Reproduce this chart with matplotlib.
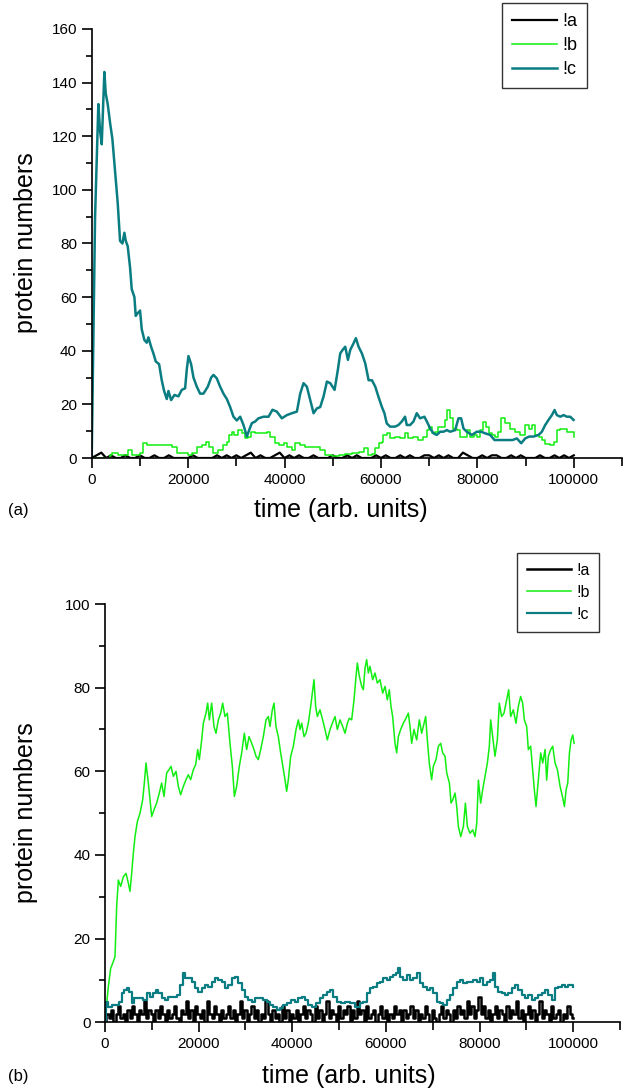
import numpy as np
import matplotlib
matplotlib.use("Agg")
import matplotlib.pyplot as plt
from matplotlib.ticker import MultipleLocator

plt.rcParams['font.family'] = ['Liberation Sans', 'DejaVu Sans']

BLACK = '#000000'
GREEN = '#11ee11'
TEAL = '#0a7d82'

# ---- panel (a) ----
a_c_t = [0, 350, 700, 1380, 1730, 2080, 2350, 2630, 2910, 3320, 3810, 4290, 4840, 5400,
         5880, 6370, 6780, 7060, 7470, 7960, 8300, 8860, 9130, 9550, 10030, 10380, 10930,
         11420, 11760, 12320, 12800, 13290, 13980, 14530, 15020, 15570, 15920, 16470, 17160,
         17990, 18680, 19380, 19720, 20070, 20620, 21110, 21800, 22490, 23180, 24080, 24780,
         25260, 25950, 26640, 27330, 28030, 28720, 29410, 30100, 30800, 31490, 32180, 32660,
         33220, 33900, 34600, 35640, 36680, 37500, 38400, 39440, 40480, 41520, 42560, 43250,
         43940, 44630, 45330, 46020, 46710, 47400, 48100, 48790, 49480, 50380, 51070, 51550,
         52040, 52590, 53150, 53630, 54320, 54800, 55360, 56050, 56740, 57440, 58130, 58820,
         59470, 60160, 60720, 61200, 61900, 62930, 63620, 64320, 65000, 65350, 66050, 66740,
         67430, 68120, 69020, 69710, 70200, 70890, 71580, 72270, 72970, 73660, 74350, 75390,
         76080, 76630, 77120, 77810, 78850, 79890, 80790, 81620, 82660, 83550, 84380, 85420,
         86460, 87290, 88190, 89090, 89920, 90750, 91650, 92690, 93380, 94070, 94760, 95460,
         96010, 96490, 97190, 97880, 98570, 99260, 99950]
a_c_v = [0, 45, 90, 132, 122, 117, 130, 144, 136, 132, 125, 119, 107, 95,
         81, 80, 84, 81, 79, 71, 63, 60, 53, 54, 55, 48, 44,
         43, 45, 41.5, 39, 36, 35, 29, 25, 22, 25, 21.6, 23.5,
         23, 25.4, 26, 33, 38, 35, 30, 26.6, 24, 24, 26.6, 30,
         31, 29.7, 26.6, 24, 22, 19, 15.4, 14, 15.4, 12.3, 8, 10.4,
         13, 13.6, 14.8, 15.4, 15.4, 18, 17.3, 14.8, 16, 16.7, 17.3, 24,
         27.9, 26.6, 21.6, 16.7, 18.5, 19, 23, 28.5, 27.9, 25.4, 33, 39,
         40.3, 41.5, 36.6, 40.3, 42.8, 44.7, 41.5, 39, 35.3, 29, 29, 26.6,
         22.9, 19.2, 16.7, 12.9, 11.7, 11.7, 12.3, 13.6, 15.4, 12.3, 12.3, 13.6,
         16.7, 14.8, 15.4, 12.9, 11, 9.2, 8.6, 9.8, 9.8, 10.4, 9.8, 10.4,
         14.8, 14.8, 11, 9.8, 8.6, 9.8, 9.8, 9.2, 8.6, 6.7, 6.7, 6.7,
         6.7, 6.7, 7.3, 5.5, 7.3, 8, 8, 8.6, 9.8, 12.3, 14.2, 16,
         17.9, 16, 15.4, 16, 15.4, 15.4, 14.2]

a_b_t = [0, 2770, 3800, 4150, 5540, 6920, 7610, 8300, 9000, 10030, 10730, 11420, 12460,
         15920, 16750, 17650, 19380, 20070, 20760, 21800, 22840, 23670, 24360, 25260, 26300,
         27330, 28030, 28510, 29060, 29610, 30300, 31140, 31830, 32520, 33080, 33910, 34950,
         36330, 37020, 38060, 38750, 39790, 40480, 41520, 42210, 43250, 44290, 45670, 46710,
         47400, 48440, 49820, 51210, 52590, 53970, 55360, 56400, 57300, 58130, 58820, 59510,
         60200, 60510, 61200, 61900, 62930, 63970, 65000, 65700, 66740, 67780, 68820, 69510,
         70000, 70540, 71240, 71930, 72620, 73310, 73800, 74350, 75040, 75730, 76420, 77120,
         77810, 78500, 79200, 79890, 80580, 81270, 81750, 82310, 83000, 83690, 84380, 84940,
         85770, 86800, 87840, 88880, 89780, 90610, 91300, 92000, 92690, 93380, 94070, 95110,
         95800, 96490, 97190, 97880, 98570, 99260, 99950]
a_b_v = [0, 0, 1, 2, 1, 1, 3, 1, 1, 2, 5.5, 5, 5,
         5, 4, 2, 2, 1, 2, 4, 5, 6, 4, 2, 3,
         5, 6, 8.6, 9.8, 8.6, 10.4, 9.2, 7.3, 8, 9.8, 9.2, 9.2,
         9.8, 8, 5.5, 4.8, 5.5, 4.2, 3, 5.5, 4.8, 4, 4.2, 4,
         3, 1, 0.7, 1, 1.4, 1.7, 2.4, 3.6, 1, 1.4, 3.6, 5.5,
         6.1, 8.6, 9.2, 7.3, 8, 7.3, 9.2, 7.3, 8, 6.7, 8, 10.4,
         11.7, 9.2, 9.8, 11.7, 11.7, 14.2, 17.9, 14.8, 11, 10.4, 8, 8,
         10.4, 8, 8.6, 8, 10.4, 13.6, 11.7, 9.2, 8.6, 8, 9.8, 14.8,
         12.9, 11, 9.8, 8.6, 12.3, 11, 12.3, 8.6, 8, 6.7, 5.2, 4.9,
         6.1, 10.4, 11, 11, 9.8, 9.8, 8]

a_a_v = [0, 1, 2, 0, 1, 0, 0, 1, 0, 0, 1, 0, 0, 1, 0, 0, 1, 0, 0, 0,
         0, 1, 0, 0, 0, 0, 1, 0, 1, 0, 1, 0, 1, 2, 0, 1, 0, 0, 1, 2,
         0, 1, 0, 1, 0, 0, 1, 0, 0, 0, 1, 0, 0, 1, 0, 1, 0, 0, 0, 1,
         0, 1, 0, 0, 1, 0, 1, 0, 0, 1, 1, 0, 1, 0, 1, 0, 0, 2, 1, 0,
         0, 1, 0, 1, 1, 0, 0, 1, 0, 1, 0, 0, 0, 1, 0, 0, 1, 0, 1, 0, 1]

# ---- panel (b) ----
b_b_t = [0, 360, 710, 1210, 1640, 2140, 2490, 2850, 3350, 3920, 4490, 4980, 5340, 5700,
         6050, 6410, 6910, 7480, 8050, 8400, 8760, 9260, 9610, 9970, 10470, 11030, 11600,
         12100, 12600, 13170, 13670, 14100, 14600, 15170, 15660, 16160, 16730, 17300, 17800,
         18300, 18870, 19370, 19790, 20150, 20650, 21000, 21570, 21930, 22290, 22780, 23280,
         23710, 24210, 24710, 25130, 25630, 26130, 26700, 27200, 27630, 28120, 28690, 29190,
         29760, 30260, 30760, 31330, 31830, 32250, 32750, 33250, 33820, 34390, 34890, 35240,
         35740, 36100, 36520, 37020, 37520, 38090, 38450, 38800, 39160, 39660, 40230, 40800,
         41300, 41650, 42010, 42510, 42930, 43430, 43930, 44360, 44640, 45000, 45350, 45920,
         46490, 46990, 47490, 48060, 48560, 49130, 49630, 50200, 50770, 51270, 51770, 52190,
         52690, 53190, 53620, 53900, 54330, 54830, 55180, 55540, 55890, 56250, 56600, 57170,
         57670, 58170, 58740, 59310, 59810, 60300, 60730, 61090, 61440, 61940, 62300, 62660,
         63150, 63720, 64290, 64790, 65150, 65500, 66000, 66570, 67140, 67640, 68140, 68490,
         68850, 69280, 69770, 70130, 70700, 71200, 71700, 72130, 72630, 72990, 73560, 73910,
         74270, 74770, 75120, 75480, 75980, 76550, 76980, 77400, 77970, 78540, 79040, 79400,
         79750, 80240, 80670, 81170, 81670, 82090, 82380, 82800, 83300, 83800, 84220, 84720,
         85220, 85790, 86220, 86640, 87210, 87780, 88280, 88780, 89210, 89570, 90070, 90420,
         90920, 91350, 91700, 92060, 92560, 93060, 93490, 93990, 94340, 94700, 95200, 95630,
         96130, 96630, 97200, 97700, 98130, 98490, 98840, 99200, 99550, 99910, 100190]
b_b_v = [0, 4.5, 8.5, 12.9, 14.1, 15.7, 27.7, 34, 32.5, 34.8, 35.6, 33.3, 31.3, 35.6,
         40.4, 44.4, 48, 50, 53.2, 57.2, 62, 57.2, 53.2, 49.2, 50.8, 52.4, 54.8,
         57.2, 54, 59.6, 60.4, 61.2, 58.8, 60, 56.4, 54.4, 56.4, 58, 59.2,
         58, 60.4, 61.6, 65.2, 62.8, 67.5, 71.5, 73.9, 76.3, 72.3, 76.3, 70.7,
         69.1, 72.3, 73.9, 76.3, 73.1, 73.9, 66.7, 61.2, 54, 56.4, 61.2, 64.4,
         69.1, 65.2, 68.3, 66.7, 65.2, 63.6, 62.8, 65.2, 68.3, 72.3, 73.1, 70.7,
         74.7, 76.3, 70.7, 68.3, 64.4, 60.4, 58, 55.2, 58, 63.6, 66, 70,
         72.3, 70, 71.5, 68.3, 69.1, 71.5, 75.5, 79.5, 81.9, 75.5, 73.1, 74.7,
         72.3, 70, 67.5, 70, 71.5, 73.1, 70, 72.3, 70.7, 69.1, 71.5, 72.7,
         72.3, 77.1, 82.7, 85.9, 82.7, 80.3, 79.5, 84.7, 86.7, 83.5, 85.1, 81.9,
         83.5, 81.1, 81.9, 78.7, 80.3, 77.1, 79.5, 75.5, 73.1, 66.7, 64.4, 68.3,
         70, 71.5, 72.7, 73.9, 70.7, 66.7, 70, 67.5, 72.3, 69.1, 71.5, 73.1,
         67.5, 61.8, 58, 61.2, 62.8, 66, 66.7, 64.4, 63.6, 59.6, 57.2, 52.4,
         53.2, 54.8, 51.6, 46.8, 44.4, 46.8, 52.4, 46.8, 45.2, 46, 44.4, 47.6,
         57.9, 52.4, 55.6, 58.8, 62, 66, 72.3, 68.3, 63.6, 67.5, 76.3, 73.1,
         73.9, 77.1, 79.5, 73.1, 74.7, 71.5, 75.5, 77.9, 76.3, 72.3, 70.7, 65.2,
         66, 60.4, 55.6, 51.6, 57.9, 64.4, 62, 65.2, 57.9, 63.6, 65.2, 66,
         62, 60.4, 56.4, 54, 51.6, 55.6, 57.2, 64.4, 67.5, 68.7, 66.7]

b_c_t = [0, 210, 710, 1420, 2490, 3060, 3560, 4060, 4630, 5200, 5700, 6190, 6620, 7480,
         8190, 8900, 9610, 10320, 10890, 11390, 12100, 12820, 13530, 14240, 15310, 16020,
         16590, 17090, 17800, 18510, 19220, 19940, 20650, 21360, 22070, 22780, 23500, 24210,
         24920, 25630, 26340, 27060, 27770, 28480, 29190, 29900, 30620, 31330, 32040, 32750,
         33820, 34530, 35240, 35960, 36670, 37380, 38090, 38950, 39660, 40580, 41300, 42010,
         42720, 43430, 44150, 45070, 45920, 46630, 47350, 48060, 48770, 49480, 50340, 51270,
         52330, 53400, 54470, 55180, 55890, 56600, 57320, 58030, 58740, 59450, 60160, 60870,
         61580, 62150, 62510, 63010, 63720, 64430, 65150, 65860, 66570, 67280, 67990, 68710,
         69420, 70130, 70840, 71560, 72270, 72980, 73690, 74410, 75120, 75830, 76540, 77260,
         77970, 78680, 79390, 80100, 80810, 81520, 82240, 82800, 83300, 84010, 84720, 85440,
         86150, 86860, 87570, 88280, 88990, 89710, 90420, 91130, 91840, 92560, 93270, 93980,
         94700, 95410, 96120, 96830, 97540, 98260, 98970, 100040]
b_c_v = [0, 4.9, 3.7, 4.1, 4.1, 4.9, 6.9, 7.7, 8.1, 7.3, 4.5, 5.7, 5.7, 5.7,
         5.3, 6.9, 6.1, 6.9, 7.7, 6.9, 5.7, 5.3, 6.1, 6.1, 6.5, 8.9,
         11.7, 10.5, 10.5, 9.7, 8.1, 7.3, 8.1, 8.9, 8.5, 9.7, 10.5, 10.1,
         9.7, 8.1, 8.9, 10.5, 10.9, 9.3, 7.7, 6.1, 5.3, 4.9, 5.7, 5.7,
         5.3, 4.9, 4.1, 3.7, 2.9, 3.3, 4.1, 4.5, 5.3, 4.9, 5.7, 6.1,
         5.3, 4.1, 3.7, 4.5, 5.7, 6.5, 7.3, 7.7, 6.1, 4.9, 4.5, 4.9,
         4.5, 3.7, 4.5, 4.9, 6.9, 8.1, 8.5, 9.3, 9.7, 10.5, 10.1, 10.9,
         11.3, 11.7, 12.9, 10.9, 10.1, 11.3, 10.1, 10.5, 11.7, 9.3, 8.5, 7.7,
         8.1, 6.9, 4.9, 4.5, 4.1, 5.3, 6.5, 8.1, 9.7, 10.1, 9.3, 9.7,
         9.7, 10.1, 9.7, 10.5, 8.9, 9.7, 10.1, 11.7, 8.5, 7.3, 6.9, 6.5,
         6.9, 8.1, 8.9, 7.7, 6.5, 5.7, 6.5, 5.3, 5.7, 6.5, 6.9, 7.7,
         6.5, 5.3, 8.1, 8.5, 8.9, 8.5, 8.9, 8.5]

b_a_v = [0, 2, 1, 3, 0, 2, 4, 1, 2, 0, 3, 1, 4, 2, 0, 3, 2, 5, 1, 3, 2,
         0, 3, 1, 4, 2, 0, 3, 1, 2, 4, 1, 0, 3, 2, 5, 1, 3, 0, 4, 2,
         1, 3, 0, 5, 2, 1, 4, 2, 0, 3, 1, 2, 4, 1, 3, 0, 2, 5, 1, 3,
         0, 2, 4, 1, 3, 0, 2, 1, 5, 2, 0, 3, 1, 2, 0, 4, 1, 3, 0, 2,
         1, 3, 0, 2, 4, 1, 3, 2, 0, 4, 1, 3, 0, 2, 5, 1, 3, 2, 0, 4,
         1, 3, 2, 4, 0, 3, 1, 5, 2, 3, 0, 4, 1, 2, 3, 0, 2, 4, 1, 3,
         0, 2, 1, 4, 2, 3, 0, 3, 1, 2, 4, 1, 3, 0, 2, 1, 4, 2, 0, 3,
         1, 0, 2, 4, 1, 3, 2, 0, 3, 1, 4, 2, 3, 1, 5, 2, 4, 1, 3, 6,
         2, 4, 1, 3, 0, 2, 4, 1, 3, 2, 0, 4, 1, 3, 2, 5, 1, 3, 0, 2,
         4, 1, 3, 0, 2, 5, 1, 3, 2, 0, 4, 1, 2, 3, 0, 2, 1, 4, 2, 1]

labels = ['!a', '!b', '!c']

W, H = 635, 1091
fig = plt.figure(figsize=(W / 100, H / 100), dpi=100)


def style_axis(ax, ymax, ymajor):
    for s in ['top', 'right']:
        ax.spines[s].set_visible(False)
    for s in ['left', 'bottom']:
        ax.spines[s].set_linewidth(1.2)
    ax.set_xlim(0, 110000)
    ax.set_ylim(0, ymax)
    ax.xaxis.set_major_locator(MultipleLocator(20000))
    ax.xaxis.set_minor_locator(MultipleLocator(10000))
    ax.yaxis.set_major_locator(MultipleLocator(ymajor))
    ax.yaxis.set_minor_locator(MultipleLocator(ymajor / 2))
    ax.tick_params(which='major', direction='out', length=7, width=1.2, labelsize=11)
    ax.tick_params(which='minor', direction='out', length=4, width=1.2)
    ax.tick_params(axis='x', which='minor', length=6)


# panel (a)
ax1 = fig.add_axes([91.7 / W, 1 - 458 / H, (622 - 91.7) / W, (458 - 29) / H])
t_a = np.linspace(0, 100000, len(a_a_v))
ax1.plot(t_a, a_a_v, color=BLACK, lw=1.6, label=labels[0])
ax1.plot(a_b_t, a_b_v, color=GREEN, lw=1.1, drawstyle='steps-post', label=labels[1])
ax1.plot(a_c_t, a_c_v, color=TEAL, lw=1.8, label=labels[2])
style_axis(ax1, 160, 20)
ax1.set_ylabel('protein numbers', fontsize=18)
ax1.yaxis.set_label_coords(26 / W, 1 - 243 / H, transform=fig.transFigure)
ax1.set_xlabel('time (arb. units)', fontsize=18)
ax1.xaxis.set_label_coords(341 / W, 1 - 510 / H, transform=fig.transFigure)
ax1.xaxis.label.set_va('center')
ax1.yaxis.label.set_va('center')
leg1 = ax1.legend(loc='upper left', bbox_to_anchor=(502 / W, 1 - 3 / H),
                  bbox_transform=fig.transFigure, borderaxespad=0, frameon=True,
                  fancybox=False, edgecolor='black', fontsize=13, handlelength=2.5,
                  handletextpad=0.3, labelspacing=0.4, borderpad=0.55)
leg1.get_frame().set_linewidth(1.0)
fig.text(18 / W, 1 - 510 / H, '(a)', fontsize=12, ha='center', va='center')

# panel (b)
ax2 = fig.add_axes([105 / W, 1 - 1022.3 / H, (620 - 105) / W, (1022.3 - 604) / H])
t_b = np.linspace(0, 100000, len(b_a_v))
ax2.plot(t_b, b_a_v, color=BLACK, lw=1.8, drawstyle='steps-mid', label=labels[0])
ax2.plot(b_b_t, b_b_v, color=GREEN, lw=1.1, label=labels[1])
ax2.plot(b_c_t, b_c_v, color=TEAL, lw=1.6, drawstyle='steps-post', label=labels[2])
style_axis(ax2, 100, 20)
ax2.set_ylabel('protein numbers', fontsize=18)
ax2.yaxis.set_label_coords(26 / W, 1 - 813 / H, transform=fig.transFigure)
ax2.set_xlabel('time (arb. units)', fontsize=18)
ax2.xaxis.set_label_coords(349 / W, 1 - 1076 / H, transform=fig.transFigure)
ax2.xaxis.label.set_va('center')
ax2.yaxis.label.set_va('center')
leg2 = ax2.legend(loc='upper left', bbox_to_anchor=(517 / W, 1 - 553 / H),
                  bbox_transform=fig.transFigure, borderaxespad=0, frameon=True,
                  fancybox=False, edgecolor='black', fontsize=11.5, handlelength=2.8,
                  handletextpad=0.3, labelspacing=0.45, borderpad=0.6)
leg2.get_frame().set_linewidth(1.0)
fig.text(18 / W, 1 - 1076 / H, '(b)', fontsize=12, ha='center', va='center')

fig.savefig('out.png', dpi=100)
